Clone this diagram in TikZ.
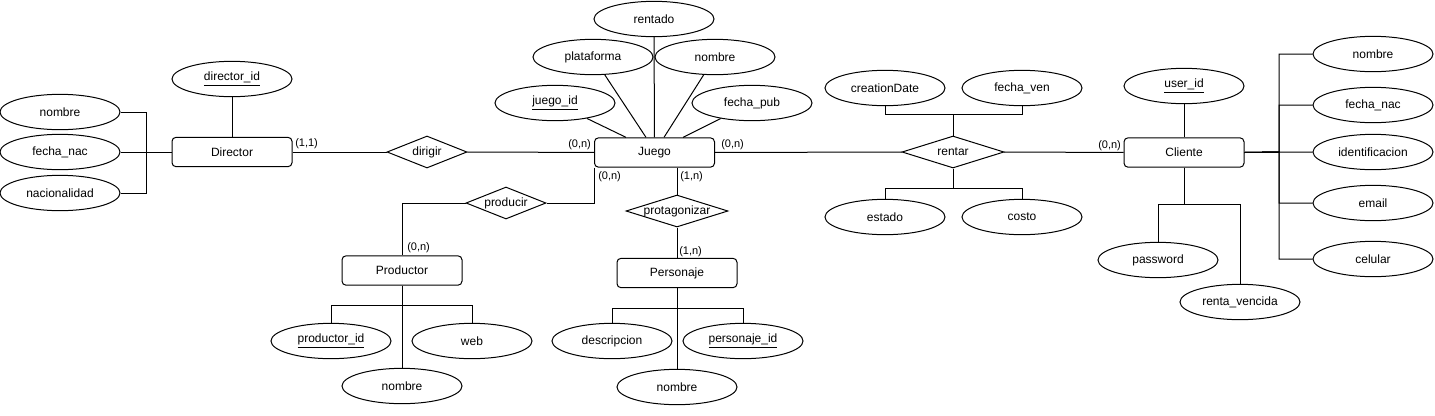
\documentclass[tikz,border=0pt]{standalone}
\usepackage{fontspec}
\setmainfont{Liberation Sans}
\usetikzlibrary{shapes.geometric,calc}
\begin{document}
\begin{tikzpicture}[x=0.75pt,y=-0.75pt,font=\fontsize{9}{11}\selectfont,
  ln/.style={line width=0.75pt, draw=black},
  attr/.style={ellipse, draw, line width=0.75pt, minimum width=90pt, minimum height=26.5pt, inner sep=0pt},
  ent/.style={rectangle, rounded corners=3pt, draw, line width=0.75pt, minimum width=90pt, minimum height=22pt, inner sep=0pt},
  rel/.style={diamond, draw, line width=0.75pt, inner sep=0pt, aspect=3.2, text height=6.5pt, text depth=1.5pt},
  card/.style={font=\fontsize{8.25}{10}\selectfont, inner sep=0pt, anchor=west}]
\useasboundingbox (0,0) rectangle (1435,415);

% Director
\node[ent] (dir) at (232,152) {Director};
\node[attr] (did) at (232,79) {\underline{director\_id}};
\node[attr] (dnom) at (60,112) {nombre};
\node[attr] (dfec) at (60,152) {fecha\_nac};
\node[attr] (dnac) at (60,193) {nacionalidad};
\draw[ln] (did) -- (dir);
\draw[ln] (dnom.east) -- ++(26,0) |- (dir.west);
\draw[ln] (dnac.east) -- ++(26,0) |- (dir.west);
\draw[ln] (dfec) -- (dir);

% dirigir
\node[rel, minimum width=60pt, minimum height=24pt] (dirigir) at (427,152) {dirigir};

% Juego
\node[ent] (juego) at (654.5,152.5) {Juego};
\node[attr] (rentado) at (654,19) {rentado};
\node[attr] (jplat) at (593,57) {plataforma};
\node[attr] (jnom) at (715,57) {nombre};
\node[attr] (jid) at (555,103) {\underline{juego\_id}};
\node[attr] (jfec) at (752,103) {fecha\_pub};
\draw[ln] (rentado) -- (juego);
\draw[ln] (jplat) -- ($(juego.north west)+(52,0)$);
\draw[ln] (jnom) -- ($(juego.north west)+(70,0)$);
\draw[ln] (jid) -- ($(juego.north west)+(32,0)$);
\draw[ln] (jfec) -- ($(juego.north west)+(89,0)$);

\draw[ln] (dir) -- (dirigir);
\draw[ln] (dirigir) -- (juego);
\node[card] (c11) at (295,144) {(1,1)};
\node[card] (c0n1) at (568,145) {(0,n)};

% producir / Productor
\node[rel, minimum width=60pt, minimum height=24pt] (prodrel) at (506,203) {producir};
\node[ent] (prod) at (402,270.5) {Productor};
\node[attr] (pid) at (331,341) {\underline{productor\_id}};
\node[attr] (pweb) at (472,341) {web};
\node[attr] (pnom) at (402,386) {nombre};
\draw[ln] (juego.south west) |- (prodrel.east);
\draw[ln] (prodrel.west) -| (prod.north);
\draw[ln] (prod.south) -- ++(0,20) -| (pid.north);
\draw[ln] (prod.south) -- ++(0,20) -| (pweb.north);
\draw[ln] (prod) -- (pnom);
\node[card] (c0n2) at (598,177) {(0,n)};
\node[card] (c0n3) at (407,248) {(0,n)};

% protagonizar / Personaje
\node[rel, minimum width=76.5pt, minimum height=24pt] (prota) at (677,211) {protagonizar};
\node[ent] (pers) at (677,273) {Personaje};
\node[attr] (pdesc) at (612,341) {descripcion};
\node[attr] (perid) at (743,341) {\underline{personaje\_id}};
\node[attr] (pernom) at (677,387) {nombre};
\draw[ln] (prota.north) -- (prota.north |- juego.south);
\draw[ln] (prota) -- (pers);
\draw[ln] (pers.south) -- ++(0,20) -| (pdesc.north);
\draw[ln] (pers.south) -- ++(0,20) -| (perid.north);
\draw[ln] (pers) -- (pernom);
\node[card] (c1n1) at (680,177) {(1,n)};
\node[card] (c1n2) at (679,252) {(1,n)};

% rentar
\node[rel, minimum width=76.5pt, minimum height=24pt] (rentar) at (953,152) {rentar};
\node[attr] (cdate) at (885,88) {creationDate};
\node[attr] (fven) at (1022,88) {fecha\_ven};
\node[attr] (estado) at (885,217) {estado};
\node[attr] (costo) at (1022,217) {costo};
\draw[ln] (rentar.north) -- ++(0,-21) -| (cdate.south);
\draw[ln] (rentar.north) -- ++(0,-21) -| (fven.south);
\draw[ln] (rentar.south) -- ++(0,20) -| (estado.north);
\draw[ln] (rentar.south) -- ++(0,20) -| (costo.north);

% Cliente
\node[ent] (cli) at (1184,152.5) {Cliente};
\node[attr] (uid) at (1184,86) {\underline{user\_id}};
\node[attr] (cnom) at (1373,54) {nombre};
\node[attr] (cfec) at (1373,105) {fecha\_nac};
\node[attr] (cident) at (1373,152) {identificacion};
\node[attr] (cemail) at (1373,203) {email};
\node[attr] (ccel) at (1373,259) {celular};
\node[attr] (cpass) at (1158,260) {password};
\node[attr] (crenta) at (1240,302) {renta\_vencida};
\coordinate (trunk) at (1279,152);
\draw[ln] (uid) -- (cli);
\draw[ln] (cli.east) -- (trunk) |- (cnom.west);
\draw[ln] (cli.east) -- (trunk) |- (cfec.west);
\draw[ln] (cli.east) -- (trunk) -- (cident.west);
\draw[ln] (cli.east) -- (trunk) |- (cemail.west);
\draw[ln] (cli.east) -- (trunk) |- (ccel.west);
\draw[ln] (cli.south) -- ++(0,37) -| (cpass.north);
\draw[ln] (cli.south) -- ++(0,37) -| (crenta.north);

\draw[ln] (juego) -- (rentar);
\draw[ln] (rentar) -- (cli);
\node[card] (c0n4) at (721,145) {(0,n)};
\node[card] (c0n5) at (1098,146) {(0,n)};
\end{tikzpicture}
\end{document}
